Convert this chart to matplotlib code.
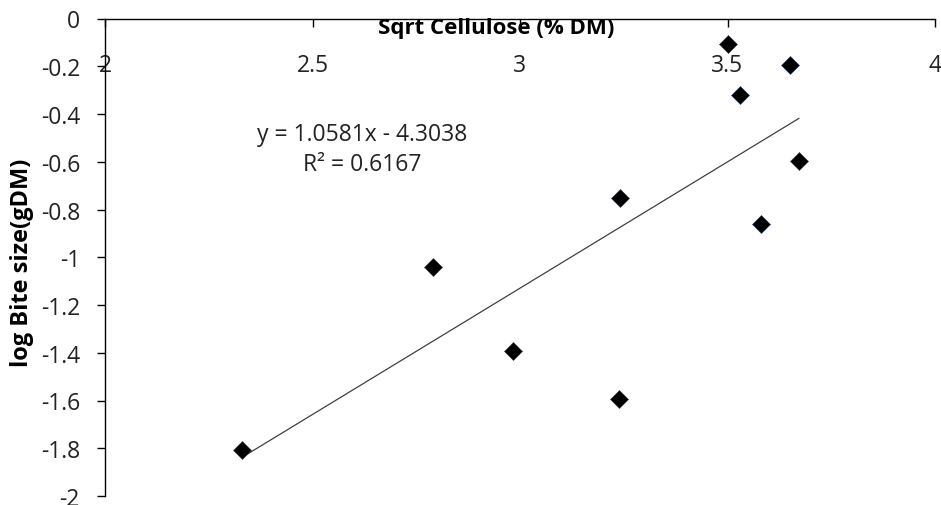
import numpy as np
import matplotlib
matplotlib.use("Agg")
import matplotlib.pyplot as plt

plt.rcParams['font.family'] = ['Open Sans', 'DejaVu Sans']

# sqrt cellulose (% DM) vs log bite size (g DM)
sqrt_cellulose = [2.331, 2.790, 2.982, 3.239, 3.240, 3.500, 3.529, 3.580, 3.650, 3.672]
log_bite_size = [-1.807, -1.041, -1.393, -1.595, -0.752, -0.107, -0.320, -0.861, -0.194, -0.598]

# linear trendline as printed on the chart
slope = 1.0581
intercept = -4.3038
r_squared = 0.6167

x_ticks = [2, 2.5, 3, 3.5, 4]
x_tick_labels = ['2', '2.5', '3', '3.5', '4']
y_ticks = [0, -0.2, -0.4, -0.6, -0.8, -1, -1.2, -1.4, -1.6, -1.8, -2]
y_tick_labels = ['0', '-0.2', '-0.4', '-0.6', '-0.8', '-1', '-1.2', '-1.4', '-1.6', '-1.8', '-2']

fig = plt.figure(figsize=(9.41, 5.06), dpi=100)
ax = fig.add_axes([105 / 941, 1 - 497 / 506, 830 / 941, 477.5 / 506])

x = np.array(sqrt_cellulose)
xl = np.array([x.min(), x.max()])
ax.plot(xl, slope * xl + intercept, color='#404040', lw=0.9, zorder=2)
ax.plot(sqrt_cellulose, log_bite_size, 'D', color='black', ms=9,
        mec='#1f3a5f', mew=0.4, zorder=3)

ax.set_xlim(2, 4)
ax.set_ylim(-2, 0)

# x axis sits on y = 0, at the top of the plot
ax.spines['bottom'].set_position(('data', 0))
ax.spines['right'].set_visible(False)
ax.spines['top'].set_visible(False)
for s in ['left', 'bottom']:
    ax.spines[s].set_linewidth(1.0)

ax.set_xticks(x_ticks)
ax.set_xticklabels(x_tick_labels)
ax.set_yticks(y_ticks)
ax.set_yticklabels(y_tick_labels)
ax.tick_params(axis='x', direction='out', length=6, width=1, labelsize=16.5,
               pad=19, colors='black', labelcolor='#222222')
ax.tick_params(axis='y', direction='out', length=6, width=1, labelsize=16.5,
               pad=12, labelcolor='#222222')

ax.set_xlabel('Sqrt Cellulose (% DM)', fontsize=16, fontweight='bold')
ax.xaxis.set_label_coords(0.471, 1.003)
ax.set_ylabel('log Bite size(gDM)', fontsize=17, fontweight='bold')
ax.yaxis.set_label_coords(-0.085, 0.49)

eq = 'y = %.4fx - %.4f\nR² = %.4f' % (slope, -intercept, r_squared)
ax.text(2.62, -0.547, eq, ha='center', va='center', fontsize=16.5,
        color='#222222', linespacing=1.3)

fig.savefig('out.png', dpi=100)
